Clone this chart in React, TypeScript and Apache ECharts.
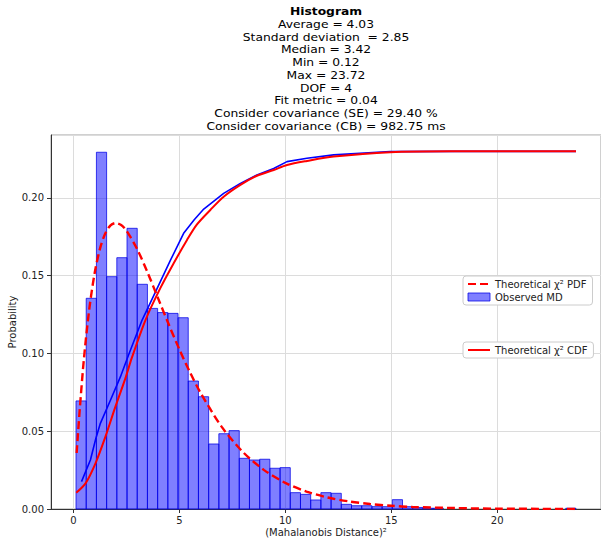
import React, { useEffect, useRef } from 'react';
import * as echarts from 'echarts';

const titleText = 'Histogram';
const statLines = [
  'Average = 4.03',
  'Standard deviation  = 2.85',
  'Median = 3.42',
  'Min = 0.12',
  'Max = 23.72',
  'DOF = 4',
  'Fit metric = 0.04',
  'Consider covariance (SE) = 29.40 %',
  'Consider covariance (CB) = 982.75 ms',
];

const xAxisName = '(Mahalanobis Distance)²';
const yAxisName = 'Probability';
const pdfName = 'Theoretical χ² PDF';
const histName = 'Observed MD';
const cdfName = 'Theoretical χ² CDF';
const ecdfName = 'Observed CDF';

// histogram bins (density)
const binStart = 0.12;
const binWidth = 0.4816;
const histHeights = [
  0.0695, 0.1355, 0.2294, 0.1494, 0.1616, 0.1805, 0.1445, 0.129, 0.1263, 0.1258,
  0.123, 0.0823, 0.0722, 0.0418, 0.0484, 0.0504, 0.0326, 0.0315, 0.032, 0.0262,
  0.0266, 0.0105, 0.0094, 0.0058, 0.0105, 0.0101, 0.003, 0.0021, 0.0021, 0.0015,
  0.0015, 0.006, 0.0015, 0.001, 0.0005, 0.0005, 0, 0, 0, 0,
  0, 0, 0, 0, 0, 0, 0, 0, 0.0005,
];

// theoretical PDF (red dashed)
const pdfX = [0.15, 0.3, 0.5, 0.75, 1, 1.25, 1.5, 1.75, 2, 2.25, 2.5, 3, 3.5, 4, 4.5, 5, 5.5, 6, 7, 8, 9, 10, 11, 12, 13, 14, 15, 16, 18, 20, 22, 23.72];
const pdfY = [0.036, 0.0646, 0.0974, 0.1289, 0.1516, 0.1673, 0.1771, 0.1824, 0.1839, 0.1826, 0.179, 0.1673, 0.152, 0.1353, 0.1186, 0.1026, 0.0879, 0.0747, 0.0528, 0.0366, 0.025, 0.0168, 0.0112, 0.0074, 0.0049, 0.0032, 0.0021, 0.0013, 0.0006, 0.0002, 0.0001, 0.00004];

// observed CDF (blue), scaled
const ecdfX = [0.38, 0.8, 1.05, 1.27, 1.75, 2.22, 2.6, 3.24, 3.95, 4.58, 5.2, 5.7, 6.15, 7.09, 7.88, 8.66, 9.45, 10.08, 11.02, 12.28, 14.95, 18, 23.72];
const ecdfY = [0.0176, 0.0315, 0.045, 0.0551, 0.0701, 0.0851, 0.099, 0.1215, 0.1419, 0.16, 0.1773, 0.186, 0.1929, 0.203, 0.2094, 0.2148, 0.219, 0.2234, 0.2255, 0.2277, 0.2298, 0.23, 0.23];

// theoretical CDF (red solid), scaled
const cdfX = [0.13, 0.57, 1.04, 1.51, 1.98, 2.45, 2.75, 3.4, 4.1, 4.73, 5.36, 5.83, 6.46, 7.09, 7.88, 8.66, 9.45, 10.08, 11.02, 12.28, 14.95, 17.78, 23.72];
const cdfY = [0.0105, 0.0165, 0.0294, 0.0465, 0.0658, 0.084, 0.097, 0.1215, 0.142, 0.158, 0.173, 0.183, 0.1923, 0.2008, 0.2084, 0.2143, 0.218, 0.2212, 0.2238, 0.2266, 0.2294, 0.23, 0.23];

const FONT = 'DejaVu Sans';

export default function App() {
  const ref = useRef<HTMLDivElement>(null);

  useEffect(() => {
    document.body.style.margin = '0';
    const chart = echarts.init(ref.current!, null, { renderer: 'svg' });

    const histData = histHeights
      .map((h, i) => [binStart + i * binWidth, binStart + (i + 1) * binWidth, h])
      .filter((d) => d[2] > 0);

    const hiddenSymbol = { opacity: 0 };

    const option: any = {
      animation: false,
      textStyle: { fontFamily: FONT },
      grid: {
        left: 51,
        right: 0,
        top: 135,
        bottom: 33,
        containLabel: false,
        outerBoundsMode: 'none',
        show: true,
        borderColor: '#a0a0a0',
        borderWidth: 1,
      },
      xAxis: {
        type: 'value',
        min: -1.06,
        max: 24.9,
        splitNumber: 5,
        name: xAxisName,
        nameLocation: 'middle',
        nameGap: 18,
        nameMoveOverlap: false,
        nameTextStyle: { fontSize: 10, color: '#222', fontFamily: FONT },
        axisLine: { show: true, onZero: false, lineStyle: { color: '#333', width: 1 } },
        axisTick: { show: true, length: 4, inside: false, lineStyle: { color: '#333' } },
        axisLabel: { fontSize: 10, color: '#222', margin: 6, showMinLabel: false, showMaxLabel: false, fontFamily: FONT },
        splitLine: { show: true, lineStyle: { color: '#dcdcdc', width: 1 } },
      },
      yAxis: {
        type: 'value',
        min: 0,
        max: 0.2405,
        interval: 0.05,
        name: yAxisName,
        nameLocation: 'middle',
        nameGap: 34,
        nameMoveOverlap: false,
        nameTextStyle: { fontSize: 10, color: '#222', fontFamily: FONT },
        axisLine: { show: true, onZero: false, lineStyle: { color: '#333', width: 1 } },
        axisTick: { show: true, length: 4, inside: false, lineStyle: { color: '#333' } },
        axisLabel: {
          fontSize: 10,
          color: '#222',
          margin: 7,
          showMaxLabel: false,
          fontFamily: FONT,
          formatter: (v: number) => v.toFixed(2),
        },
        splitLine: { show: true, lineStyle: { color: '#dcdcdc', width: 1 } },
      },
      legend: [
        {
          orient: 'vertical',
          left: 463,
          top: 276,
          padding: [3, 6, 3, 4],
          itemGap: 3,
          itemWidth: 22,
          itemHeight: 8,
          itemTextGap: 8,
          backgroundColor: '#fff',
          borderColor: '#cccccc',
          borderWidth: 1,
          borderRadius: 3,
          selectedMode: false,
          textStyle: { fontSize: 10, color: '#222', fontFamily: FONT },
          data: [
            { name: pdfName, itemStyle: hiddenSymbol },
            {
              name: histName,
              icon: 'rect',
              itemStyle: { color: 'rgba(0,0,255,0.5)', borderColor: 'rgba(0,0,230,0.75)', borderWidth: 1 },
            },
          ],
        },
        {
          orient: 'vertical',
          left: 463,
          top: 342,
          padding: [3, 6, 3, 4],
          itemWidth: 22,
          itemHeight: 8,
          itemTextGap: 8,
          backgroundColor: '#fff',
          borderColor: '#cccccc',
          borderWidth: 1,
          borderRadius: 3,
          selectedMode: false,
          textStyle: { fontSize: 10, color: '#222', fontFamily: FONT },
          data: [{ name: cdfName, itemStyle: hiddenSymbol }],
        },
      ],
      graphic: [
        {
          type: 'text',
          x: 326,
          y: 5,
          scaleX: 1.12,
          silent: true,
          style: {
            text: titleText,
            fontSize: 11,
            fontWeight: 'bold',
            fontFamily: FONT,
            lineHeight: 12.75,
            fill: '#000',
            align: 'center',
            verticalAlign: 'top',
          },
        },
        {
          type: 'text',
          x: 326,
          y: 17.75,
          scaleX: 1.12,
          silent: true,
          style: {
            text: statLines.join('\n'),
            fontSize: 11,
            fontFamily: FONT,
            lineHeight: 12.75,
            fill: '#000',
            align: 'center',
            verticalAlign: 'top',
          },
        },
      ],
      series: [
        {
          name: histName,
          type: 'custom',
          data: histData,
          encode: { x: [0, 1], y: 2 },
          itemStyle: { color: 'rgba(0,0,255,0.5)' },
          renderItem: (params: any, api: any) => {
            const p0 = api.coord([api.value(0), api.value(2)]);
            const p1 = api.coord([api.value(1), 0]);
            return {
              type: 'rect',
              shape: { x: p0[0], y: p0[1], width: p1[0] - p0[0], height: p1[1] - p0[1] },
              style: { fill: 'rgba(0,0,255,0.5)', stroke: 'rgba(0,0,230,0.75)', lineWidth: 1 },
            };
          },
          z: 2,
        },
        {
          name: ecdfName,
          type: 'line',
          data: ecdfX.map((x, i) => [x, ecdfY[i]]),
          symbol: 'none',
          lineStyle: { color: '#0000ff', width: 1.6 },
          itemStyle: { color: '#0000ff' },
          z: 3,
        },
        {
          name: cdfName,
          type: 'line',
          data: cdfX.map((x, i) => [x, cdfY[i]]),
          symbol: 'none',
          smooth: 0.3,
          lineStyle: { color: '#ff0000', width: 2 },
          itemStyle: { color: '#ff0000' },
          z: 4,
        },
        {
          name: pdfName,
          type: 'line',
          data: pdfX.map((x, i) => [x, pdfY[i]]),
          symbol: 'none',
          smooth: 0.3,
          lineStyle: { color: '#ff0000', width: 2.4, type: [8, 4] },
          itemStyle: { color: '#ff0000' },
          z: 5,
        },
      ],
    };

    chart.setOption(option);
    return () => chart.dispose();
  }, []);

  return (
    <div
      ref={ref}
      style={{ position: 'absolute', left: 0, top: 0, width: 601, height: 542 }}
    />
  );
}
